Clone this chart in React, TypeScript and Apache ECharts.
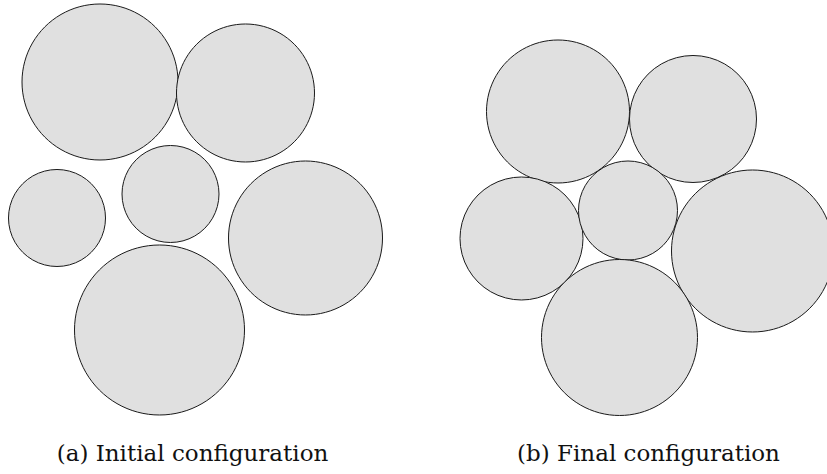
import React, { useEffect, useRef } from "react";
import * as echarts from "echarts";

// Panel (a): initial configuration (pixel-space data units)
const initialCx = [100, 245.5, 57, 170.5, 305.5, 159.5];
const initialCy = [82, 93, 218, 194, 238, 330];
const initialR = [78, 69, 48.5, 48.5, 77, 85];

// Panel (b): final configuration
const finalCx = [558, 693, 521.5, 628, 752.5, 619.5];
const finalCy = [111.5, 119, 238.5, 210.5, 251, 337.5];
const finalR = [71.5, 63.5, 61.5, 49.5, 81, 78];

const captions = ["(a) Initial configuration", "(b) Final configuration"];
const captionX = [192.5, 648.5];
const captionY = 453;

const W = 827;
const H = 474;

function toData(cx: number[], cy: number[], r: number[]) {
  return cx.map((x, i) => [x, cy[i], r[i]]);
}

export default function App() {
  const ref = useRef<HTMLDivElement>(null);
  useEffect(() => {
    if (!ref.current) return;
    const chart = echarts.init(ref.current, null, { renderer: "svg" });
    const renderItem = (params: any, api: any) => {
      const c = api.coord([api.value(0), api.value(1)]);
      const rr = api.size([api.value(2), 0])[0];
      return {
        type: "circle",
        shape: { cx: c[0], cy: c[1], r: rr },
        style: { fill: "#e0e0e0", stroke: "#1a1a1a", lineWidth: 1 },
      };
    };
    chart.setOption({
      animation: false,
      backgroundColor: "#ffffff",
      grid: { left: 0, right: 0, top: 0, bottom: 0 },
      xAxis: { type: "value", min: 0, max: W, show: false },
      yAxis: { type: "value", min: 0, max: H, inverse: true, show: false },
      series: [
        {
          type: "custom",
          name: "Initial configuration",
          renderItem,
          clip: false,
          data: toData(initialCx, initialCy, initialR),
        },
        {
          type: "custom",
          name: "Final configuration",
          renderItem,
          clip: false,
          data: toData(finalCx, finalCy, finalR),
        },
      ],
      graphic: captions.map((t, i) => ({
        type: "text",
        x: captionX[i],
        y: captionY,
        style: {
          text: t,
          fill: "#111",
          fontFamily: "'DejaVu Serif', serif",
          fontSize: 23,
          textAlign: "center",
          textVerticalAlign: "middle",
        },
      })),
    });
    return () => chart.dispose();
  }, []);
  return (
    <div
      ref={ref}
      style={{ position: "absolute", left: 0, top: 0, width: W, height: H }}
    />
  );
}
